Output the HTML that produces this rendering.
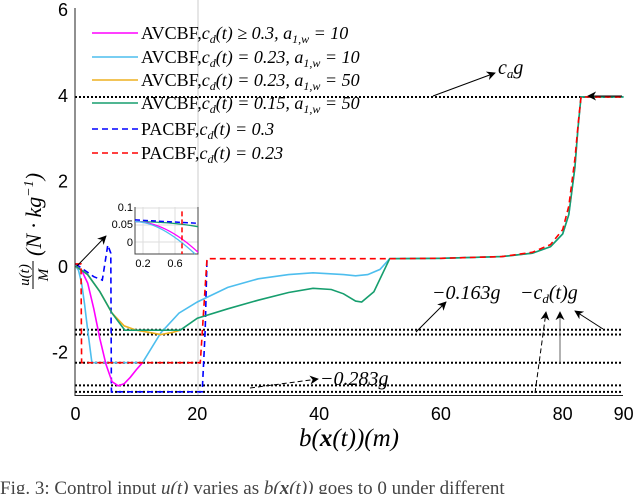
<!DOCTYPE html>
<html><head><meta charset="utf-8"><style>
body{margin:0;background:#fff;width:640px;height:494px;overflow:hidden}
svg{display:block}
text{font-family:"Liberation Serif",serif}
.tk{font-family:"Liberation Sans",sans-serif;font-size:18px}
</style></head><body>
<svg id="c" width="640" height="494">
<defs><marker id="ah" viewBox="0 0 10 10" refX="9" refY="5" markerWidth="9" markerHeight="9" orient="auto"><path d="M0,0L10,5L0,10L3,5z" fill="#000"/></marker></defs>
<line x1="198" y1="0" x2="198" y2="395" stroke="#ccc" stroke-width="1"/>
<g id="plot"></g>
<line x1="75" y1="8" x2="75" y2="396" stroke="#222"/>
<line x1="75" y1="395.5" x2="623" y2="395.5" stroke="#222"/>
<g id="ticks"></g>
<text x="349" y="446" font-size="25" text-anchor="middle" font-style="italic">b(<tspan font-weight="bold">x</tspan>(t))(m)</text>
<g transform="translate(35,292) rotate(-90)">
<text x="17" y="-6" font-size="15" text-anchor="middle" font-style="italic">u(t)</text>
<text x="17" y="13" font-size="15" text-anchor="middle" font-style="italic">M</text>
<line x1="3" y1="-2" x2="31" y2="-2" stroke="#000" stroke-width="1"/>
<text x="36" y="6" font-size="22" font-style="italic">(N · kg<tspan font-size="14" dy="-8">−1</tspan><tspan dy="8">)</tspan></text>
</g>
<g id="legend"></g>
<g font-size="20" font-style="italic">
<text x="498" y="74">c<tspan font-size="13" dy="4">a</tspan><tspan dy="-4">g</tspan></text>
<line x1="433" y1="96" x2="495" y2="73" stroke="#000" marker-end="url(#ah)"/>
<line x1="622" y1="96" x2="588" y2="96" stroke="#000" marker-end="url(#ah)"/>
<text x="432" y="299">−0.163g</text>
<text x="520" y="299">−c<tspan font-size="13" dy="4">d</tspan><tspan dy="-4">(t)g</tspan></text>
<line x1="416" y1="332" x2="446" y2="302" stroke="#000" marker-end="url(#ah)"/>
<line x1="535" y1="393" x2="546" y2="312" stroke="#000" stroke-dasharray="5,3" marker-end="url(#ah)"/>
<line x1="560" y1="363" x2="560" y2="312" stroke="#666" marker-end="url(#ah)"/>
<line x1="603" y1="329" x2="575" y2="311" stroke="#000" marker-end="url(#ah)"/>
<text x="320" y="385">−0.283g</text>
<line x1="250" y1="388" x2="318" y2="379" stroke="#000" stroke-dasharray="5,3" marker-end="url(#ah)"/>
<line x1="77" y1="266" x2="106" y2="236" stroke="#000" marker-end="url(#ah)"/>
</g>
<g id="inset"></g>
<text x="0" y="494" font-size="19" fill="#444">Fig. 3: Control input <tspan font-style="italic">u(t)</tspan> varies as <tspan font-style="italic">b(</tspan><tspan font-weight="bold" font-style="italic">x</tspan><tspan font-style="italic">(t))</tspan> goes to 0 under different</text>
</svg>
<script>
const xTicks=[0,20,40,60,80,90];
const yTicks=[-2,0,2,4,6];
const refLevels=[3.95,-1.49,-1.6,-2.26,-2.79,-2.94];
const magX=[0,1,2,3,4,5,6,7,8,9,10,11];
const magY=[0,-0.1,-0.4,-1,-1.7,-2.3,-2.7,-2.8,-2.75,-2.6,-2.42,-2.26];
const cyaX=[0,0.5,1,1.5,2,2.7,11,14,17,20,25,30,35,39,44,46,48,50,51.6,60,70,75,78,80,81,82,82.5,83,90];
const cyaY=[0,-0.1,-0.4,-0.9,-1.5,-2.26,-2.26,-1.56,-1.1,-0.84,-0.5,-0.3,-0.2,-0.16,-0.2,-0.23,-0.2,-0.08,0.17,0.18,0.22,0.3,0.45,0.75,1.2,2.3,3.2,3.95,3.95];
const oraX=[0,2,4,6,8,10,12,14,16,17.2];
const oraY=[0,-0.2,-0.6,-1.1,-1.4,-1.5,-1.55,-1.6,-1.55,-1.5];
const grnX=[0,2,4,6,8.1,17.2,20,25,30,35,39,42,44,46,47,49,51.6,60,70,75,78,80,81,82,82.5,83,90];
const grnY=[0,-0.2,-0.6,-1.1,-1.5,-1.5,-1.22,-1,-0.8,-0.62,-0.52,-0.55,-0.65,-0.82,-0.84,-0.6,0.17,0.18,0.22,0.3,0.45,0.75,1.2,2.3,3.2,3.95,3.95];
const bluX=[0,1,3,4.4,5.3,5.8,5.9,20.8,21.3,21.6];
const bluY=[0.05,-0.05,-0.25,-0.33,0.49,0.3,-2.94,-2.94,-1.5,0.17];
const redX=[0,0.9,1,20.5,21.6,51.6,60,70,75,78,80,81,82,82.6,83,90];
const redY=[0.05,0.05,-2.26,-2.26,0.17,0.17,0.18,0.22,0.32,0.5,0.85,1.4,2.5,3.4,3.95,3.95];
const X=v=>75.5+v*6.09, Y=v=>266-v*42.8;
const NS='http://www.w3.org/2000/svg';
function mk(t,a,p){const e=document.createElementNS(NS,t);for(const k in a)e.setAttribute(k,a[k]);p.appendChild(e);return e;}
const plot=document.getElementById('plot'),ticks=document.getElementById('ticks');
refLevels.forEach(l=>{const e=mk('line',{x1:75,x2:623,y1:Y(l),y2:Y(l),stroke:'#000','stroke-width':2,'stroke-dasharray':'2,2'},plot);

});
xTicks.forEach(t=>{const e=mk('text',{x:X(t),y:420,'text-anchor':'middle',class:'tk'},ticks);e.textContent=t;

});
yTicks.forEach(t=>{const e=mk('text',{x:68,y:Y(t)+7,'text-anchor':'end',class:'tk'},ticks);e.textContent=t<0?'-'+(-t):t;

});
const series=[[magX,magY,'#ff00ff',null,'series-magenta'],[cyaX,cyaY,'#4dbeee',null,'series-cyan'],[oraX,oraY,'#edb120',null,'series-orange'],[grnX,grnY,'#169e6e',null,'series-green'],[bluX,bluY,'#0000ff','6,4','series-blue-dashed'],[redX,redY,'#ff0000','6,4','series-red-dashed']];
const order=[4,1,0,2,3,5];
order.forEach(i=>{const s=series[i];const d=s[0].map((x,j)=>(j?'L':'M')+X(x).toFixed(1)+','+Y(s[1][j]).toFixed(1)).join('');
const a={d:d,fill:'none',stroke:s[2],'stroke-width':1.6};if(s[3])a['stroke-dasharray']=s[3];
const e=mk('path',a,plot);

});
const leg=document.getElementById('legend');
const sub='<tspan font-size="12" dy="4">d</tspan><tspan dy="-4">';
const aw='</tspan><tspan font-size="12" dy="4">1,w</tspan><tspan dy="-4">';
const labels=['AVCBF,<tspan font-style="italic">c'+sub+'(t) ≥ 0.3, a'+aw+' = 10</tspan></tspan>',
'AVCBF,<tspan font-style="italic">c'+sub+'(t) = 0.23, a'+aw+' = 10</tspan></tspan>',
'AVCBF,<tspan font-style="italic">c'+sub+'(t) = 0.23, a'+aw+' = 50</tspan></tspan>',
'AVCBF,<tspan font-style="italic">c'+sub+'(t) = 0.15, a'+aw+' = 50</tspan></tspan>',
'PACBF,<tspan font-style="italic">c'+sub+'(t) = 0.3</tspan></tspan>',
'PACBF,<tspan font-style="italic">c'+sub+'(t) = 0.23</tspan></tspan>'];
const ly=[33,57,80,103,129,153];
series.forEach((s,i)=>{const a={x1:92,x2:138,y1:ly[i],y2:ly[i],stroke:s[2],'stroke-width':1.6};if(s[3])a['stroke-dasharray']=s[3];
const e=mk('line',a,leg);


const t=mk('text',{x:141,y:ly[i]+6,'font-size':18},leg);t.innerHTML=labels[i];

});
const ins=document.getElementById('inset');
const IX=v=>135+(v-0.1)*80, IY=v=>242-v*340;
mk('rect',{x:135,y:207,width:63,height:47,fill:'#fff'},ins);
[0.2,0.4,0.6].forEach(v=>mk('line',{x1:IX(v),x2:IX(v),y1:207,y2:254,stroke:'#ddd'},ins));
[0,0.05,0.1].forEach(v=>mk('line',{x1:135,x2:198,y1:IY(v),y2:IY(v),stroke:'#ddd'},ins));
mk('path',{d:'M135,207V254H198V207',fill:'none',stroke:'#444'},ins);
[['0.1',207],['0.05',224],['0',242]].forEach(p=>{const t=mk('text',{x:133,y:p[1]+4,'text-anchor':'end',class:'tk'},ins);t.setAttribute('style','font-size:11px');t.textContent=p[0];});
[['0.2',0.2],['0.6',0.6]].forEach(p=>{const t=mk('text',{x:IX(p[1]),y:267,'text-anchor':'middle',class:'tk'},ins);t.setAttribute('style','font-size:11px');t.textContent=p[0];});
mk('path',{d:`M135,${IY(0.06)}Q170,${IY(0.06)} 198,${IY(0.045)}`,fill:'none',stroke:'#169e6e','stroke-width':1.3},ins);
mk('path',{d:`M135,${IY(0.06)}Q165,${IY(0.06)} 198,${IY(-0.03)}`,fill:'none',stroke:'#ff00ff','stroke-width':1.3},ins);
mk('path',{d:`M135,${IY(0.06)}Q160,${IY(0.06)} 195,${IY(-0.035)}`,fill:'none',stroke:'#4dbeee','stroke-width':1.3},ins);
mk('path',{d:`M135,${IY(0.065)}L198,${IY(0.055)}`,fill:'none',stroke:'#0000ff','stroke-width':1.5,'stroke-dasharray':'5,3'},ins);
mk('path',{d:`M182,${IY(0.09)}L182,254`,fill:'none',stroke:'#ff0000','stroke-width':1.5,'stroke-dasharray':'5,3'},ins);
</script>
</body></html>
